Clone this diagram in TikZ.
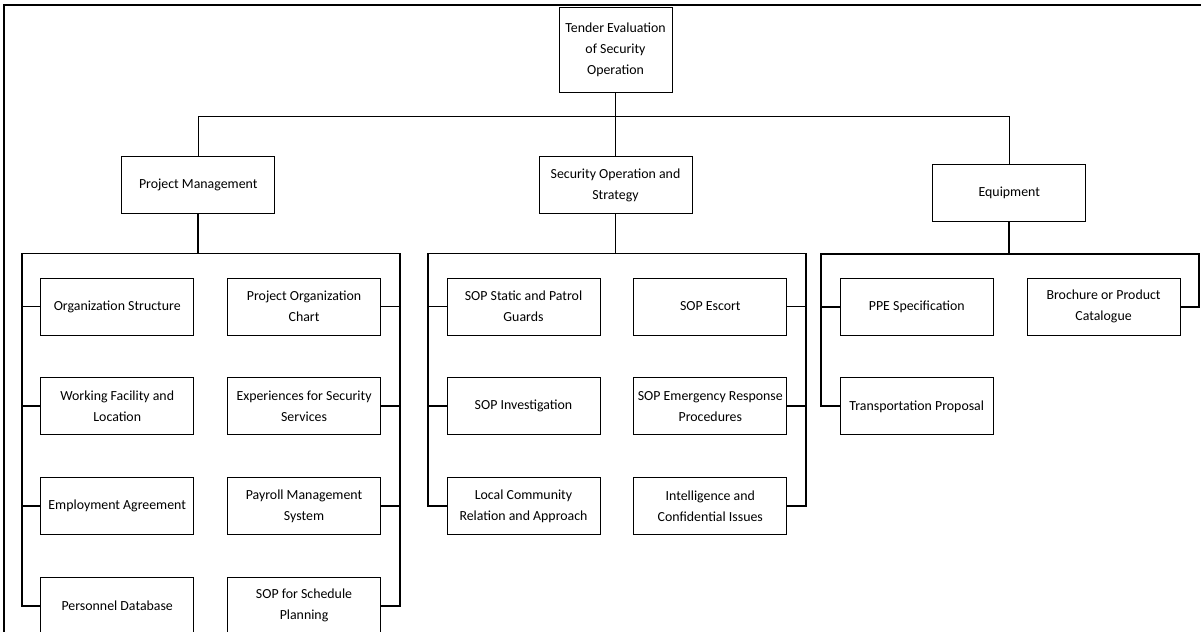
\documentclass[tikz,border=0pt]{standalone}
\usepackage{fontspec}
\setmainfont{Carlito}
\usepackage{tikz}
\usetikzlibrary{positioning}

\begin{document}
\begin{tikzpicture}[x=0.75pt, y=-0.75pt, node distance=31.5pt and 24.75pt,
  box/.style={draw, line width=0.6pt, align=center, font=\fontsize{10.4}{15.75}\selectfont, minimum width=114.75pt, minimum height=42.75pt, inner sep=2pt, fill=white},
  link/.style={draw, line width=0.75pt},
  bus/.style={draw, line width=1.4pt, line join=miter},
  frame/.style={draw, line width=1.5pt}]
  \useasboundingbox (0,0) rectangle (1201,631);
  \draw[frame] (4,640) -- (4,5) -- (1210,5);
  % top level
  \node[box, minimum width=84.75pt, minimum height=63.75pt] (root) at (615.5,49.5) {Tender Evaluation\\of Security\\Operation};
  \node[box, below=48pt of root] (sos) {Security Operation and\\Strategy};
  \node[box, left=197.6pt of sos] (pm) {Project Management};
  \node[box, right=180pt of sos, yshift=-5.6pt] (eq) {Equipment};
  \coordinate (topbus) at ([yshift=-18pt]root.south);
  \draw[link] (root.south) -- (sos.north);
  \draw[link] (pm.north) |- (topbus) -| (eq.north);
  % project management
  \node[box, below=47.5pt of pm, xshift=-60.75pt] (orgstr) {Organization Structure};
  \node[box, right=of orgstr] (projchart) {Project Organization\\Chart};
  \node[box, below=of orgstr] (facility) {Working Facility and\\Location};
  \node[box, right=of facility] (experience) {Experiences for Security\\Services};
  \node[box, below=of facility] (employ) {Employment Agreement};
  \node[box, right=of employ] (payroll) {Payroll Management\\System};
  \node[box, below=of employ] (personnel) {Personnel Database};
  \node[box, right=of personnel] (schedule) {SOP for Schedule\\Planning};
  % security operation
  \node[box, below=47.5pt of sos, xshift=-69pt] (patrol) {SOP Static and Patrol\\Guards};
  \node[box, right=of patrol] (escort) {SOP Escort};
  \node[box, below=of patrol] (investig) {SOP Investigation};
  \node[box, right=of investig] (emergency) {SOP Emergency Response\\Procedures};
  \node[box, below=of investig] (community) {Local Community\\Relation and Approach};
  \node[box, right=of community] (intel) {Intelligence and\\Confidential Issues};
  % equipment
  \node[box, below=42pt of eq, xshift=-69.4pt] (ppe) {PPE Specification};
  \node[box, right=of ppe] (brochure) {Brochure or Product\\Catalogue};
  \node[box, below=of ppe] (transport) {Transportation Proposal};
  % group buses
  \coordinate (pmL) at ([shift={(-14pt,18pt)}]orgstr.north west);
  \coordinate (pmR) at ([shift={(14pt,18pt)}]projchart.north east);
  \coordinate (sosL) at ([shift={(-14pt,18pt)}]patrol.north west);
  \coordinate (sosR) at ([shift={(14pt,18pt)}]escort.north east);
  \coordinate (eqL) at ([shift={(-14pt,18pt)}]ppe.north west);
  \coordinate (eqR) at ([shift={(14pt,18pt)}]brochure.north east);
  \draw[bus] (pm.south) -- (pm.south |- pmL);
  \draw[bus] (personnel.west) -| (pmL) -- (pmR) |- (schedule.east);
  \draw[bus] (orgstr.west) -- (orgstr.west -| pmL); \draw[bus] (facility.west) -- (facility.west -| pmL); \draw[bus] (employ.west) -- (employ.west -| pmL);
  \draw[bus] (projchart.east) -- (projchart.east -| pmR); \draw[bus] (experience.east) -- (experience.east -| pmR); \draw[bus] (payroll.east) -- (payroll.east -| pmR);
  \draw[bus] (sos.south) -- (sos.south |- sosL);
  \draw[bus] (community.west) -| (sosL) -- (sosR) |- (intel.east);
  \draw[bus] (patrol.west) -- (patrol.west -| sosL); \draw[bus] (investig.west) -- (investig.west -| sosL);
  \draw[bus] (escort.east) -- (escort.east -| sosR); \draw[bus] (emergency.east) -- (emergency.east -| sosR);
  \draw[bus] (eq.south) -- (eq.south |- eqL);
  \draw[bus] (transport.west) -| (eqL) -- (eqR) |- (brochure.east);
  \draw[bus] (ppe.west) -- (ppe.west -| eqL);
\end{tikzpicture}
\end{document}
